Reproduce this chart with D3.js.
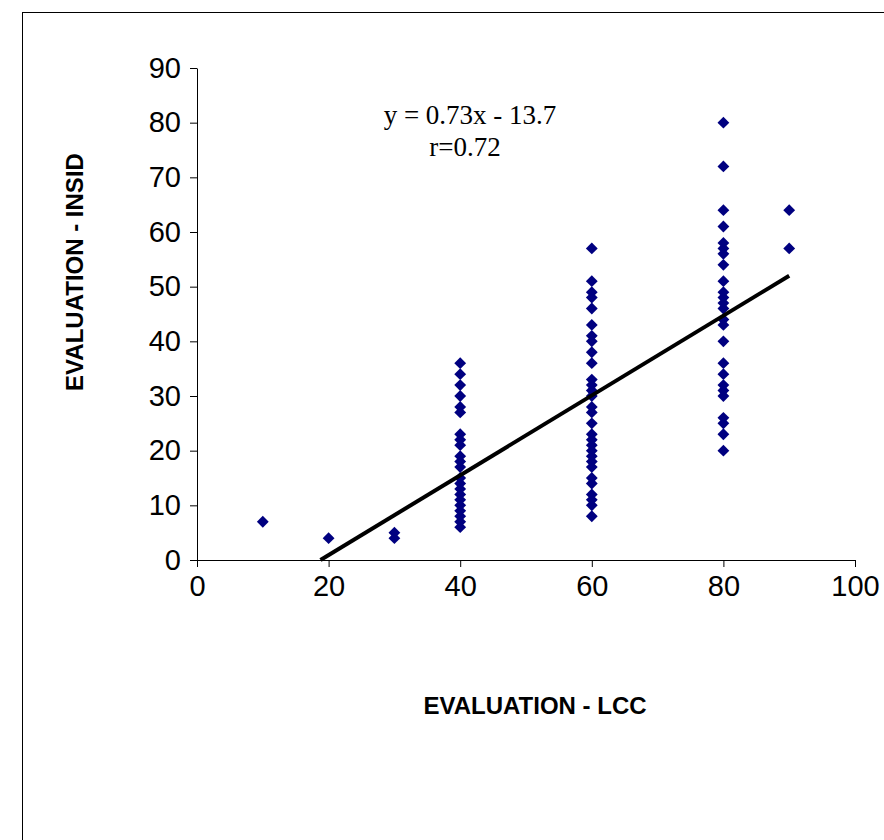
<!DOCTYPE html>
<html>
<head>
<meta charset="utf-8">
<script src="https://cdn.jsdelivr.net/npm/d3@7/dist/d3.min.js"></script>
<style>
  body { margin: 0; background: #fff; }
  svg { display: block; }
  .axis path, .axis line { stroke: #000; stroke-width: 1; }
  .axis text { font-family: "Liberation Sans Narrow", "Arial Narrow", "Liberation Sans", Arial, sans-serif; font-size: 29px; fill: #000; }
  .title { font-family: "Liberation Sans", Arial, sans-serif; font-size: 24px; font-weight: bold; }
  .eq { font-family: "Liberation Serif", "Times New Roman", serif; font-size: 27px; }
</style>
</head>
<body>
<div id="chart"></div>
<script>
  // LCC evaluation groups and the INSID scores read for each one
  const lccGroups = [10, 20, 30, 40, 60, 80, 90];
  const insidScores = [
    [7],
    [4],
    [4, 5],
    [36, 34, 32, 30, 28, 27, 23, 22, 21, 19, 18, 17, 15, 14, 13, 12, 11, 10, 9, 8, 7, 6],
    [57, 51, 49, 48, 46, 43, 41, 40, 38, 36, 33, 32, 31, 30, 28, 27, 25, 23, 22, 21, 20, 19, 18, 17, 15, 14, 12, 11, 10, 8],
    [80, 72, 64, 61, 58, 57, 56, 54, 51, 49, 48, 47, 46, 44, 43, 40, 36, 34, 32, 31, 30, 26, 25, 23, 20],
    [64, 57]
  ];
  const xTicks = [0, 20, 40, 60, 80, 100];
  const yTicks = [0, 10, 20, 30, 40, 50, 60, 70, 80, 90];
  const slope = 0.73, intercept = -13.7;
  const fitRange = [-intercept / slope, 90];

  const W = 884, H = 840;
  const margin = {top: 68, right: 29, bottom: 280, left: 197};
  const width = W - margin.left - margin.right;
  const height = H - margin.top - margin.bottom;

  const svg = d3.select("#chart").append("svg")
    .attr("width", W)
    .attr("height", H);

  // outer frame
  svg.append("rect")
    .attr("x", 22.5).attr("y", 12.5)
    .attr("width", W).attr("height", H)
    .attr("fill", "none").attr("stroke", "#000").attr("stroke-width", 1);

  const g = svg.append("g")
    .attr("transform", "translate(" + margin.left + "," + margin.top + ")");

  const x = d3.scaleLinear().domain([0, 100]).range([0, width]);
  const y = d3.scaleLinear().domain([0, 90]).range([height, 0]);

  g.append("g")
    .attr("class", "axis")
    .attr("transform", "translate(0," + height + ")")
    .call(d3.axisBottom(x).tickValues(xTicks).tickSize(7).tickSizeOuter(0).tickPadding(8));

  g.append("g")
    .attr("class", "axis")
    .call(d3.axisLeft(y).tickValues(yTicks).tickSize(7).tickSizeOuter(0).tickPadding(9));

  const points = [];
  lccGroups.forEach(function (lx, i) {
    insidScores[i].forEach(function (v) { points.push({x: lx, y: v}); });
  });

  g.append("g").selectAll("path")
    .data(points)
    .enter().append("path")
    .attr("d", d3.symbol(d3.symbolSquare, 70))
    .attr("transform", function (d) {
      return "translate(" + x(d.x) + "," + y(d.y) + ") rotate(45)";
    })
    .attr("fill", "#000080");

  const line = d3.line()
    .x(function (d) { return x(d); })
    .y(function (d) { return y(slope * d + intercept); });

  g.append("path")
    .attr("d", line(fitRange))
    .attr("fill", "none")
    .attr("stroke", "#000")
    .attr("stroke-width", 4);

  svg.append("text")
    .attr("class", "eq")
    .attr("x", 470).attr("y", 124)
    .attr("text-anchor", "middle")
    .text("y = 0.73x - 13.7");

  svg.append("text")
    .attr("class", "eq")
    .attr("x", 465).attr("y", 156)
    .attr("text-anchor", "middle")
    .text("r=0.72");

  svg.append("text")
    .attr("class", "title")
    .attr("x", 535).attr("y", 714)
    .attr("text-anchor", "middle")
    .text("EVALUATION - LCC");

  svg.append("text")
    .attr("class", "title")
    .attr("transform", "translate(83,272) rotate(-90)")
    .attr("text-anchor", "middle")
    .text("EVALUATION - INSID");
</script>
</body>
</html>
